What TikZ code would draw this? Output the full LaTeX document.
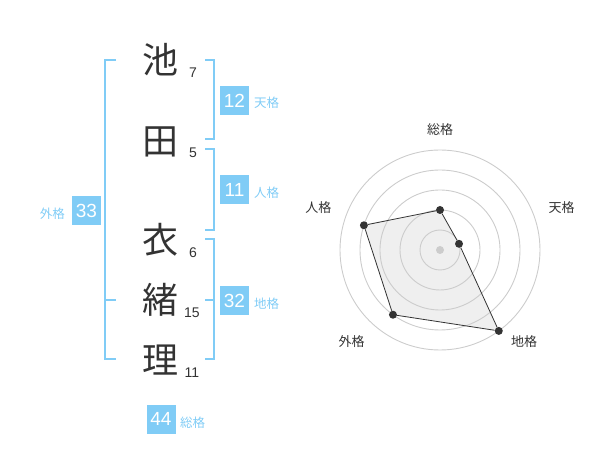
\documentclass[tikz,border=0pt]{standalone}
\usepackage{fontspec}
\setmainfont{Liberation Sans}
\newfontfamily\jp{Noto Sans CJK JP}
\definecolor{sky}{HTML}{80CCF6}
\definecolor{ink}{HTML}{333333}
\definecolor{grid}{HTML}{CCCCCC}
\definecolor{paper}{HTML}{EFEFEF}
\tikzset{
    kanji/.style =  {text=ink,
                    font=\jp\fontsize{36}{36}\selectfont,
                    inner sep=0pt},
    stroke/.style = {text=ink,
                    font=\fontsize{14}{14}\selectfont,
                    inner sep=0pt},
    score/.style =  {rectangle,
                    fill=sky,
                    text=white,
                    font=\fontsize{19}{19}\selectfont,
                    minimum width=29pt,
                    minimum height=29pt,
                    inner sep=0pt},
    kaku/.style =   {text=sky,
                    font=\jp\fontsize{12.5}{12.5}\selectfont,
                    inner sep=0pt},
    axis/.style =   {text=ink,
                    font=\jp\fontsize{13}{13}\selectfont,
                    inner sep=0pt},
    -,
    bracket/.style = {draw=sky,
                    line width=2pt},
    ring/.style =   {draw=grid,
                    line width=0.9pt},
    dot/.style =    {circle,
                    fill=ink,
                    inner sep=0pt,
                    minimum size=8pt},
    hub/.style =    {circle,
                    fill=grid,
                    inner sep=0pt,
                    minimum size=8pt}}

\begin{document}
\begin{tikzpicture}[x=1pt,y=-1pt]
    \useasboundingbox (0,0) rectangle (600,470);
                \node[kanji]   (k1) at (160,60)  {池};
                \node[kanji]   (k2) at (160,142) {田};
                \node[kanji]   (k3) at (160,240) {衣};
                \node[kanji]   (k4) at (160,300) {緒};
                \node[kanji]   (k5) at (160,360) {理};
                \node[stroke]  (s1) at (193,73)  {7};
                \node[stroke]  (s2) at (193,153) {5};
                \node[stroke]  (s3) at (193,253) {6};
                \node[stroke]  (s4) at (192,313) {15};
                \node[stroke]  (s5) at (192,373) {11};
                \draw[bracket] (116,60) -| (105,359) -- (116,359);
                \draw[bracket] (105,300) -- (116,300);
                \draw[bracket] (205,60) -| (214,139) -- (205,139);
                \draw[bracket] (205,149) -| (214,230) -- (205,230);
                \draw[bracket] (205,239) -| (214,359) -- (205,359);
                \draw[bracket] (205,300) -- (214,300);
                \node[score]   (ten) at (234.5,100.5) {12};
                \node[kaku,anchor=west] (tenl) at (254,103) {天格};
                \node[score]   (jin) at (234.5,190) {11};
                \node[kaku,anchor=west] (jinl) at (254,193) {人格};
                \node[score]   (chi) at (234.5,300.5) {32};
                \node[kaku,anchor=west] (chil) at (254,304) {地格};
                \node[score]   (gai) at (86.5,210.5) {33};
                \node[kaku,anchor=east] (gail) at (65,214) {外格};
                \node[score]   (sou) at (161,419) {44};
                \node[kaku,anchor=west] (soul) at (180,423) {総格};
    \begin{scope}[shift={(440,250)}]
                \coordinate    (v1) at (-90:40);
                \coordinate    (v2) at (-18:20);
                \coordinate    (v3) at (54:100);
                \coordinate    (v4) at (126:80);
                \coordinate    (v5) at (198:80);
                \fill[paper]   (v1) -- (v2) -- (v3) -- (v4) -- (v5) -- cycle;
                \foreach \r in {20,40,...,100}
                    \draw[ring] (0,0) circle (\r pt);
                \node[hub]     (o) at (0,0) {};
                \node[dot]     (p1) at (v1) {};
                \node[dot]     (p2) at (v2) {};
                \node[dot]     (p3) at (v3) {};
                \node[dot]     (p4) at (v4) {};
                \node[dot]     (p5) at (v5) {};
                \path [draw=ink,line width=0.8pt]
                               (p1) edge (p2)
                               (p2) edge (p3)
                               (p3) edge (p4)
                               (p4) edge (p5)
                               (p5) edge (p1);
                \node[axis]    (a1) at (0,-120)      {総格};
                \node[axis]    (a2) at (121.7,-42)   {天格};
                \node[axis]    (a3) at (84,91.7)     {地格};
                \node[axis]    (a4) at (-88.3,92)    {外格};
                \node[axis]    (a5) at (-121.7,-42)  {人格};
    \end{scope}
\end{tikzpicture}
\end{document}
